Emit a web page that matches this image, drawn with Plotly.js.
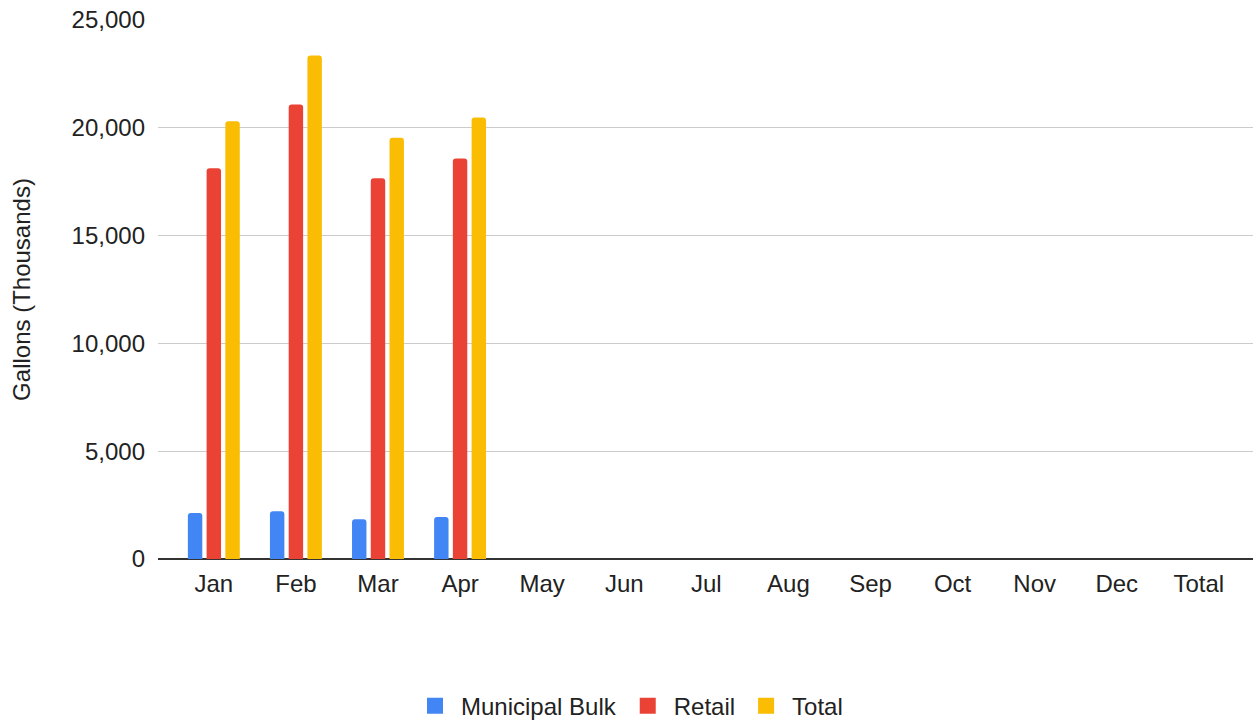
<!DOCTYPE html>
<html>
<head>
<meta charset="utf-8">
<script src="https://cdn.plot.ly/plotly-3.0.1.min.js"></script>
<style>
  html, body { margin: 0; padding: 0; background: #fff; }
  #chart { width: 1257px; height: 722px; }
</style>
</head>
<body>
<div id="chart"></div>
<script>
// months + yearly total column (only Jan-Apr reported so far)
var months = ['Jan', 'Feb', 'Mar', 'Apr', 'May', 'Jun', 'Jul', 'Aug', 'Sep', 'Oct', 'Nov', 'Dec', 'Total'];

var municipalBulk = [2130, 2220, 1840, 1950, null, null, null, null, null, null, null, null, null];
var retail = [18120, 21080, 17660, 18580, null, null, null, null, null, null, null, null, null];
var total = [20300, 23350, 19540, 20480, null, null, null, null, null, null, null, null, null];

var seriesNames = ['Municipal Bulk', 'Retail', 'Total'];
var seriesColors = ['#4285F4', '#EA4335', '#FBBC04'];
var yTicks = [0, 5000, 10000, 15000, 20000, 25000];

var seriesValues = [municipalBulk, retail, total];
var data = [];

// the bars themselves
seriesValues.forEach(function (vals, i) {
    data.push({
        type: 'bar',
        name: seriesNames[i],
        legendgroup: seriesNames[i],
        showlegend: false,
        x: months,
        y: vals,
        marker: { color: seriesColors[i], cornerradius: 3 },
        hoverinfo: 'x+y+name'
    });
});

// legend-only entries so the swatches come out as bigger squares
seriesNames.forEach(function (name, i) {
    data.push({
        type: 'scatter',
        mode: 'markers',
        name: name,
        legendgroup: name,
        x: [null],
        y: [null],
        marker: { symbol: 'square', size: 16, color: seriesColors[i], line: { width: 0 } }
    });
});

var layout = {
    width: 1257,
    height: 722,
    margin: { l: 158, r: 4, t: 20, b: 163 },
    paper_bgcolor: '#fff',
    plot_bgcolor: '#fff',
    font: { family: 'Arial, "Liberation Sans", sans-serif', size: 24, color: '#222' },
    barmode: 'group',
    bargap: 0.315,
    bargroupgap: 0.23,
    showlegend: true,
    legend: {
        orientation: 'h',
        x: 0.5, xanchor: 'center', xref: 'container',
        y: 0.022, yanchor: 'middle', yref: 'container',
        font: { size: 24, color: '#222' },
        itemsizing: 'trace',
        itemwidth: 42,
        traceorder: 'normal'
    },
    xaxis: {
        type: 'category',
        range: [-0.68, 12.66],
        showgrid: false,
        zeroline: false,
        showline: false,
        ticks: '',
        ticklabelstandoff: 8,
        tickfont: { size: 24, color: '#222' },
        fixedrange: true
    },
    yaxis: {
        range: [0, 25000],
        tickvals: yTicks,
        tickformat: ',d',
        showgrid: true,
        gridcolor: '#cccccc',
        gridwidth: 1,
        zeroline: true,
        zerolinecolor: '#333',
        zerolinewidth: 1.5,
        ticks: '',
        ticklabelstandoff: 12,
        tickfont: { size: 24, color: '#222' },
        title: { text: 'Gallons (Thousands)', font: { size: 24, color: '#222' }, standoff: 34 },
        fixedrange: true
    }
};

Plotly.newPlot('chart', data, layout, { displayModeBar: false, staticPlot: true });
</script>
</body>
</html>
